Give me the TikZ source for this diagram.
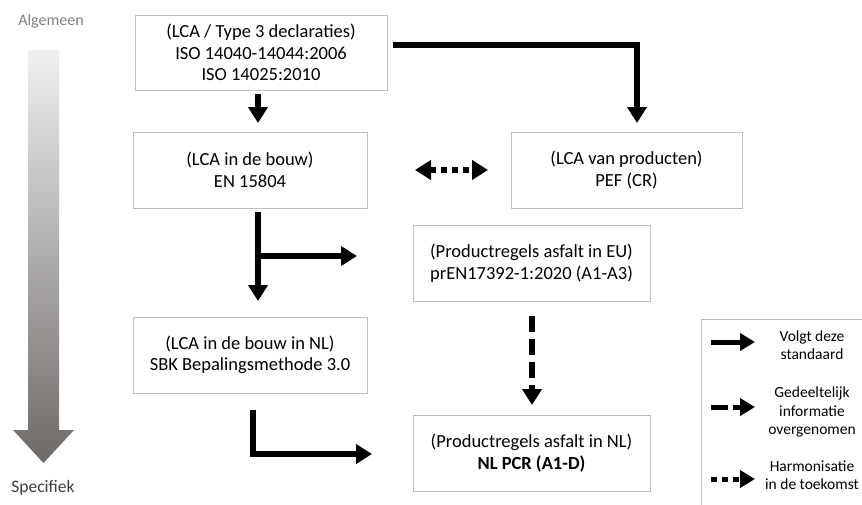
\documentclass[tikz,border=0pt]{standalone}
\usepackage{fontspec}
\setmainfont{Carlito}
\usetikzlibrary{arrows.meta,calc}
\definecolor{boxgray}{HTML}{BFBFBF}
\definecolor{topgray}{HTML}{F0F0F0}
\definecolor{botgray}{HTML}{6D6967}
\definecolor{labgray}{HTML}{7F7F7F}
\definecolor{labdark}{HTML}{3F3F3F}
\begin{document}
\begin{tikzpicture}[x=1pt,y=-1pt,
  box/.style={draw=boxgray, line width=0.9pt, align=center, inner sep=0pt,
    font=\fontsize{18.5}{21.5}\selectfont},
  flow/.style={line width=5.5pt, -{Triangle[width=19pt,length=16pt]}},
  partial/.style={flow, dash pattern=on 16pt off 7pt},
  future/.style={line width=5.5pt, dash pattern=on 6pt off 5pt,
    {Triangle[width=19pt,length=16pt]}-{Triangle[width=19pt,length=16pt]}},
  legflow/.style={line width=5pt, -{Triangle[width=17pt,length=15pt]}},
  legtext/.style={align=center, inner sep=0pt, font=\fontsize{15.5}{18.5}\selectfont},
  side/.style={inner sep=0pt}
]
\useasboundingbox (0,0) rectangle (862,504);

% gradient arrow
\shade[top color=topgray, bottom color=botgray]
  (28,50) -- (59,50) -- (59,430) -- (74,430) -- (43.5,463) -- (13,430) -- (28,430) -- cycle;
\node[side, text=labgray, font=\fontsize{16}{19}\selectfont] (alg) at (51,21) {Algemeen};
\node[side, text=labdark, font=\fontsize{17.5}{20}\selectfont] (spec) at (43,488) {Specifiek};

% boxes
\node[box, minimum width=252pt, minimum height=75pt] (b1) at (261,52.5)
  {(LCA / Type 3 declaraties)\\ISO 14040-14044:2006\\ISO 14025:2010};
\node[box, minimum width=234pt, minimum height=76pt] (b2) at (250,170)
  {(LCA in de bouw)\\EN 15804};
\node[box, minimum width=231pt, minimum height=76pt] (b3) at (626.5,170)
  {(LCA van producten)\\PEF (CR)};
\node[box, minimum width=237pt, minimum height=76pt] (b4) at (531.5,263)
  {(Productregels asfalt in EU)\\prEN17392-1:2020 (A1-A3)};
\node[box, minimum width=234pt, minimum height=76pt] (b5) at (250,355)
  {(LCA in de bouw in NL)\\SBK Bepalingsmethode 3.0};
\node[box, minimum width=237pt, minimum height=76pt] (b6) at (531.5,453)
  {(Productregels asfalt in NL)\\\textbf{NL PCR (A1-D)}};

% connectors
\coordinate (a1s) at (258,94);
\coordinate (a1e) at (258,123);
\draw[flow] (a1s) -- (a1e);

\coordinate (a2s) at (393,45);
\coordinate (a2e) at (637,123);
\draw[flow] (a2s) -| (a2e);

\coordinate (a3s) at (415,170);
\coordinate (a3e) at (488,170);
\draw[future] (a3s) -- (a3e);

\coordinate (a4s) at (258,212);
\coordinate (a4e) at (258,301);
\coordinate (a4m) at (258,256);
\coordinate (a4r) at (357,256);
\draw[flow] (a4s) -- (a4e);
\draw[flow] ([xshift=-2.75pt]a4m) -- (a4r);

\coordinate (a5s) at (532,316);
\coordinate (a5e) at (532,405);
\draw[partial] (a5s) -- (a5e);

\coordinate (a6s) at (253,410);
\coordinate (a6e) at (372,454);
\draw[flow] (a6s) |- (a6e);

% legend
\draw[draw=boxgray, line width=0.9pt] (701,510) -- (701,319) -- (870,319);
\coordinate (l1s) at (711,342); \coordinate (l1e) at (755,342);
\coordinate (l2s) at (711,407); \coordinate (l2e) at (755,407);
\coordinate (l3s) at (711,479); \coordinate (l3e) at (755,479);
\draw[legflow] (l1s) -- (l1e);
\draw[legflow, dash pattern=on 17pt off 5pt] (l2s) -- (l2e);
\draw[legflow, dash pattern=on 6pt off 5pt] (l3s) -- (l3e);
\node[legtext] (t1) at (812,345) {Volgt deze\\standaard};
\node[legtext] (t2) at (812,412) {Gedeeltelijk\\informatie\\overgenomen};
\node[legtext] (t3) at (812,475) {Harmonisatie\\in de toekomst};
\end{tikzpicture}
\end{document}
